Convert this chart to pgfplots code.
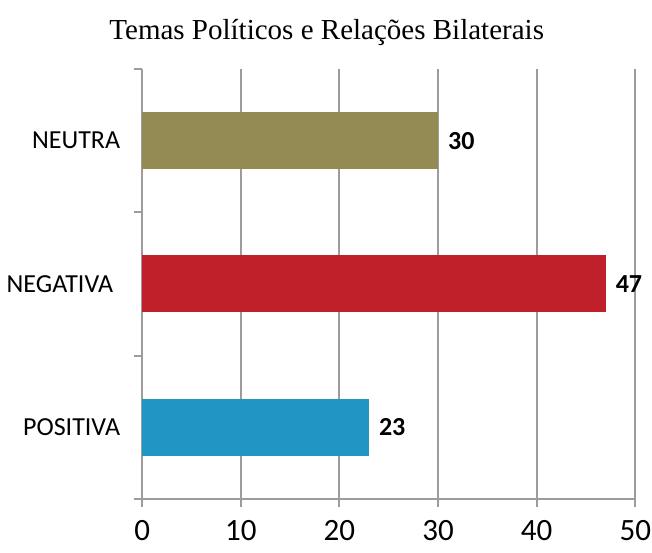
\documentclass[border=0pt]{standalone}
\usepackage{pgfplots}
\pgfplotsset{compat=1.18}
\usepackage{fontspec}
\setmainfont{Carlito}
\newfontfamily\titlefont{Liberation Serif}

\definecolor{neutra}{HTML}{948A54}
\definecolor{negativa}{HTML}{C0202A}
\definecolor{positiva}{HTML}{2196C4}
\definecolor{gridgray}{HTML}{9C9C9C}

\begin{document}
\begin{tikzpicture}
\begin{axis}[
    scale only axis,
    width=246.5pt, height=215pt,
    xbar, bar width=28.5pt, bar shift=0pt,
    xmin=0, xmax=50,
    ymin=-0.5, ymax=2.5,
    axis x line*=bottom, axis y line*=left,
    axis line style={gridgray, line width=1pt},
    xtick={0,10,...,50},
    xmajorgrids, major grid style={gridgray, line width=1pt},
    ytick={-0.5,0.5,1.5,2.5},
    yticklabels={},
    extra y ticks={0,1,2},
    extra y tick labels={POSITIVA, NEGATIVA\kern3.5pt, NEUTRA},
    extra y tick style={major tick length=0pt, grid=none},
    tick style={gridgray, line width=1pt},
    tick align=outside,
    major tick length=4pt,
    /pgf/number format/assume math mode=true,
    xticklabel style={font=\fontsize{15.5}{18}\selectfont, yshift=-3pt, inner xsep=0.5pt, text depth=3pt},
    yticklabel style={font=\fontsize{13}{15}\selectfont, xshift=-7.5pt},
    title={\titlefont\fontsize{14.5}{17}\selectfont\rule{0pt}{16.5pt}Temas Políticos e Relações Bilaterais},
    title style={yshift=2pt, xshift=-31pt},
    nodes near coords,
    every node near coord/.append style={font=\fontsize{13}{15}\selectfont\bfseries, black, anchor=west, xshift=1.5pt},
]
\addplot[fill=positiva, draw=none] coordinates {(23,0)};
\addplot[fill=negativa, draw=none] coordinates {(47,1)};
\addplot[fill=neutra, draw=none] coordinates {(30,2)};
\end{axis}
\end{tikzpicture}
\end{document}
